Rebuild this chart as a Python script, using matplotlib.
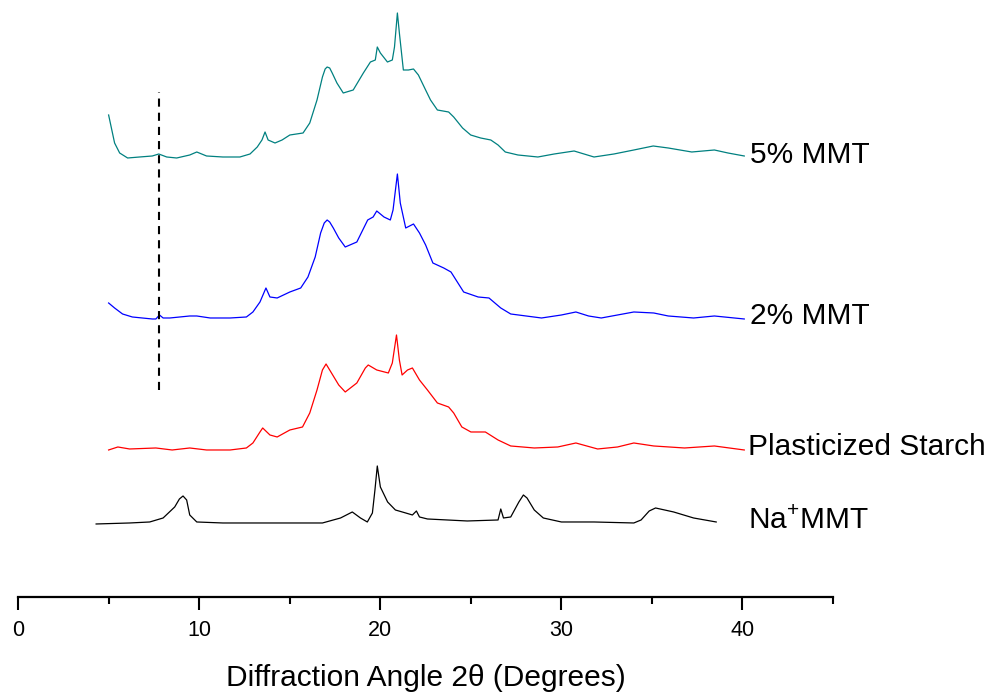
import matplotlib
matplotlib.use("Agg")
from matplotlib import pyplot as plt
import numpy as np

plt.rcParams['font.family'] = ['Liberation Sans', 'DejaVu Sans']
plt.rcParams['mathtext.fontset'] = 'custom'
plt.rcParams['mathtext.rm'] = 'Liberation Sans'

# 5% MMT pattern (2-theta, intensity above its own baseline)
mmt5_angle = [4.99, 5.32, 5.6, 6.04, 6.7, 7.4, 7.76, 8.2, 8.75, 9.47,
              9.86, 10.4, 11.3, 12.24, 12.8, 13.2, 13.46, 13.63, 13.8, 14.18,
              14.57, 15.0, 15.73, 16.1, 16.5, 16.8, 16.95, 17.06, 17.2, 17.34,
              17.6, 17.95, 18.5, 19.06, 19.45, 19.72, 19.83, 20.0, 20.39, 20.66,
              20.78, 20.94, 21.05, 21.27, 21.55, 21.83, 22.1, 22.5, 22.77, 23.15,
              23.77, 24.05, 24.54, 24.99, 25.54, 26.1, 26.5, 26.9, 27.6, 28.7,
              29.6, 30.7, 31.25, 31.8, 32.9, 34.0, 35.07, 35.9, 37.2, 38.45,
              39.2, 40.1]
mmt5_int = [42, 14, 4, -1, 0, 1, 3, 0, -1, 2,
            5, 1, 0, 0, 3, 10, 17, 25, 17, 14,
            17, 22, 24, 34, 57, 80, 88, 90, 89, 84,
            74, 64, 67, 84, 95, 97, 110, 104, 95, 97,
            110, 144, 124, 87, 87, 88, 82, 67, 57, 47,
            45, 40, 29, 22, 19, 17, 12, 5, 2, 0,
            3, 6, 3, 0, 3, 7, 11, 9, 5, 7,
            4, 1]

# 2% MMT
mmt2_angle = [4.99, 5.32, 5.76, 6.3, 7.4, 7.6, 7.8, 8.0, 8.37, 9.47,
              9.86, 10.6, 11.7, 12.6, 12.96, 13.35, 13.68, 13.9, 14.3, 15.0,
              15.6, 16.0, 16.4, 16.7, 16.9, 17.06, 17.2, 17.4, 17.7, 18.06,
              18.7, 19.3, 19.6, 19.8, 20.2, 20.55, 20.7, 20.94, 21.1, 21.4,
              21.83, 22.16, 22.5, 22.9, 23.5, 23.9, 24.6, 25.4, 26.0, 26.65,
              27.2, 28.9, 30.0, 30.8, 31.5, 32.2, 34.0, 35.1, 35.9, 37.3,
              38.45, 40.1]
mmt2_int = [15, 10, 4, 1, -1, -1, 3, 0, 0, 2,
            2, 0, 0, 1, 6, 16, 30, 21, 20, 26,
            30, 41, 61, 85, 95, 98, 96, 90, 80, 71,
            76, 98, 101, 107, 101, 98, 108, 144, 115, 90,
            94, 85, 73, 55, 50, 46, 26, 21, 20, 10,
            4, 0, 3, 6, 2, 0, 6, 5, 2, 0,
            2, -1]

# plasticized starch
starch_angle = [4.99, 5.5, 6.15, 7.6, 8.5, 9.47, 10.4, 11.7, 12.6, 12.96,
                13.35, 13.5, 13.9, 14.3, 15.0, 15.7, 16.1, 16.5, 16.8, 17.0,
                17.3, 17.7, 18.06, 18.7, 19.17, 19.33, 19.8, 20.44, 20.66, 20.89,
                21.05, 21.2, 21.5, 21.77, 22.16, 22.6, 23.15, 23.77, 24.05, 24.5,
                25.0, 25.8, 26.5, 27.2, 28.5, 29.8, 30.8, 32.0, 33.1, 34.0,
                35.1, 36.8, 38.45, 40.1]
starch_int = [-1, 2, 0, 1, -1, 1, -1, -1, 1, 6,
              17, 21, 14, 12, 19, 22, 36, 59, 79, 85,
              76, 64, 57, 66, 81, 84, 79, 76, 86, 114,
              89, 74, 79, 81, 69, 59, 46, 42, 36, 22,
              17, 17, 9, 3, 1, 2, 6, 0, 2, 6,
              3, 1, 3, -1]

# Na+ montmorillonite
namt_angle = [4.3, 6.15, 7.26, 8.0, 8.64, 8.9, 9.1, 9.3, 9.47, 9.86,
              11.3, 14.07, 16.8, 17.8, 18.45, 18.9, 19.28, 19.56, 19.7, 19.83,
              20.0, 20.4, 20.83, 21.4, 21.77, 21.99, 22.16, 22.6, 24.8, 26.5,
              26.65, 26.8, 27.2, 27.65, 27.9, 28.1, 28.5, 29.0, 30.0, 31.8,
              34.0, 34.4, 34.85, 35.2, 36.2, 37.3, 38.55]
namt_int = [-1, 0, 1, 5, 16, 24, 27, 23, 8, 1,
            0, 0, 0, 5, 11, 5, 1, 10, 33, 57,
            36, 21, 13, 10, 8, 12, 6, 4, 2, 3,
            14, 5, 6, 21, 28, 25, 13, 5, 1, 1,
            0, 3, 12, 15, 11, 5, 1]

labels = ['5% MMT', '2% MMT', 'Plasticized Starch', 'Na$^{+}$MMT']
colors = ['#008080', '#0000ff', '#ff0000', '#000000']
offsets = [440, 279, 148, 74]
label_x = [40.4, 40.4, 40.3, 40.3]

# d001 position of the clay marked across the composites
marker_angle = 7.76
marker_span = (207, 505)

fig = plt.figure(figsize=(9.88, 6.94), dpi=100)
ax = fig.add_axes([0.0185, 0.1398, 0.8246, 0.8602])

series = [(mmt5_angle, mmt5_int), (mmt2_angle, mmt2_int),
          (starch_angle, starch_int), (namt_angle, namt_int)]
for (ang, inten), lab, col, off, lx in zip(series, labels, colors, offsets, label_x):
    ax.plot(ang, np.array(inten) + off, color=col, lw=0.9)
    ax.text(lx, off + 2, lab, fontsize=21.5, va='center', ha='left')

ax.vlines(marker_angle, *marker_span, colors='black', lw=1.5,
          linestyles=(0, (3.9, 2.9)))

ax.set_xlim(0, 45)
ax.set_ylim(0, 597)
for s in ['top', 'right', 'left']:
    ax.spines[s].set_visible(False)
ax.spines['bottom'].set_linewidth(1.6)
ax.set_yticks([])
ax.set_xticks([0, 10, 20, 30, 40])
ax.set_xticks([5, 15, 25, 35, 45], minor=True)
ax.tick_params(axis='x', which='major', length=9.4, width=1.5, labelsize=15.5, pad=7)
ax.tick_params(axis='x', which='minor', length=5, width=1.5)
ax.set_xlabel('Diffraction Angle 2\u03b8 (Degrees)', fontsize=21.5, labelpad=17)

fig.savefig('out.png', dpi=100)
